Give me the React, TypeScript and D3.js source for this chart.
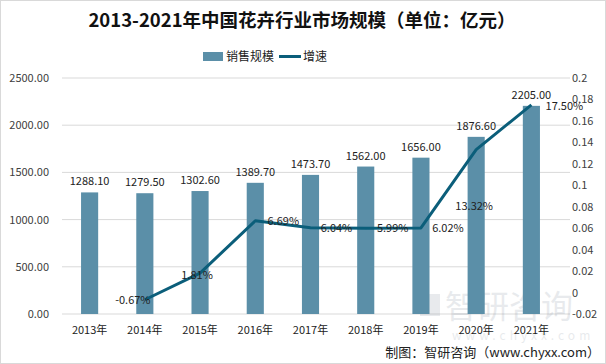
import React, { useEffect, useRef } from 'react';
import * as d3 from 'd3';

const years = ['2013年', '2014年', '2015年', '2016年', '2017年', '2018年', '2019年', '2020年', '2021年'];
const sales = [1288.1, 1279.5, 1302.6, 1389.7, 1473.7, 1562.0, 1656.0, 1876.6, 2205.0];
const growth = [null, -0.0067, 0.0181, 0.0669, 0.0604, 0.0599, 0.0602, 0.1332, 0.175];
const leftTicks = [0, 500, 1000, 1500, 2000, 2500];
const rightTicks = [-0.02, 0, 0.02, 0.04, 0.06, 0.08, 0.1, 0.12, 0.14, 0.16, 0.18, 0.2];

const FONT = '"Noto Sans CJK SC", "Microsoft YaHei", sans-serif';
const BAR = '#5b8fa8';
const LINE = '#0b5e7a';

const App: React.FC = () => {
  const svgRef = useRef<SVGSVGElement>(null);

  useEffect(() => {
    if (!svgRef.current) return;
    const svg = d3.select(svgRef.current);
    svg.selectAll('*').remove();

    const width = 606;
    const height = 364;
    const left = 62, right = 559, top = 78, bottom = 314;

    svg.append('rect').attr('x', 0.5).attr('y', 0.5).attr('width', width - 1).attr('height', height - 1)
      .attr('fill', '#fff').attr('stroke', '#d9d9d9');

    const x = d3.scaleBand().domain(years).range([left, right]).paddingInner(0.69).paddingOuter(0.345);
    const y = d3.scaleLinear().domain([0, 2500]).range([bottom, top]);
    const y2 = d3.scaleLinear().domain([-0.02, 0.2]).range([bottom, top]);

    // grid
    svg.append('g').selectAll('line').data(leftTicks).join('line')
      .attr('x1', left).attr('x2', 570)
      .attr('y1', d => y(d)).attr('y2', d => y(d))
      .attr('stroke', '#d9d9d9').attr('stroke-width', 1);

    // left axis labels
    svg.append('g').selectAll('text').data(leftTicks).join('text')
      .attr('x', 49).attr('y', d => y(d) + 4)
      .attr('text-anchor', 'end').style('font-family', FONT).style('font-size', '11px').attr('fill', '#404040')
      .text(d => d.toFixed(2));

    // right axis labels
    svg.append('g').selectAll('text').data(rightTicks).join('text')
      .attr('x', 572).attr('y', d => y2(d) + 4)
      .style('font-family', FONT).style('font-size', '11px').attr('fill', '#404040')
      .text(d => String(+d.toFixed(2)));

    // watermark
    const wm = svg.append('g').attr('opacity', 0.15);
    wm.append('text').attr('x', 445).attr('y', 318).style('font-family', FONT).style('font-size', '32px')
      .attr('fill', '#6a7a8a').text('智研咨询');
    wm.append('text').attr('x', 452).attr('y', 340).style('font-family', FONT).style('font-size', '12px')
      .attr('fill', '#6a7a8a').attr('letter-spacing', '4px').text('www.chyxx.com');
    wm.append('rect').attr('x', 420).attr('y', 294).attr('width', 20).attr('height', 22).attr('fill', '#6a7a8a');

    // bars
    svg.append('g').selectAll('rect').data(sales).join('rect')
      .attr('x', (_, i) => x(years[i])!)
      .attr('y', d => y(d))
      .attr('width', x.bandwidth())
      .attr('height', d => bottom - y(d))
      .attr('fill', BAR);

    svg.append('g').selectAll('text').data(sales).join('text')
      .attr('x', (_, i) => x(years[i])! + x.bandwidth() / 2)
      .attr('y', d => y(d) - 7)
      .attr('text-anchor', 'middle').style('font-family', FONT).style('font-size', '11px').attr('fill', '#222')
      .text(d => d.toFixed(2));

    // x labels
    svg.append('g').selectAll('text').data(years).join('text')
      .attr('x', d => x(d)! + x.bandwidth() / 2).attr('y', 334)
      .attr('text-anchor', 'middle').style('font-family', FONT).style('font-size', '11px').attr('fill', '#222')
      .text(d => d);

    // line
    const pts = growth.map((g, i) => ({ g, i })).filter(p => p.g !== null) as { g: number; i: number }[];
    const cx = (i: number) => x(years[i])! + x.bandwidth() / 2;
    const line = d3.line<{ g: number; i: number }>().x(d => cx(d.i)).y(d => y2(d.g));
    svg.append('path').datum(pts).attr('d', line).attr('fill', 'none')
      .attr('stroke', LINE).attr('stroke-width', 3).attr('stroke-linejoin', 'round');

    const offs: Record<number, [number, number]> = {
      1: [-12, 4], 2: [-3, 6], 3: [28, 4], 4: [26, 4], 5: [27, 4], 6: [27, 4], 7: [-2, 60], 8: [33, 5],
    };
    svg.append('g').selectAll('text').data(pts).join('text')
      .attr('x', d => cx(d.i) + offs[d.i][0])
      .attr('y', d => y2(d.g) + offs[d.i][1])
      .attr('text-anchor', 'middle').style('font-family', FONT).style('font-size', '11px').attr('fill', '#222')
      .text(d => (d.g * 100).toFixed(2) + '%');

    // title
    svg.append('text').attr('x', 302).attr('y', 27).attr('text-anchor', 'middle')
      .style('font-family', FONT).style('font-size', '18.5px').style('font-weight', 'bold').attr('fill', '#111')
      .text('2013-2021年中国花卉行业市场规模（单位：亿元）');

    // legend
    const lg = svg.append('g').style('font-family', FONT).style('font-size', '12px');
    lg.append('rect').attr('x', 203).attr('y', 52).attr('width', 20).attr('height', 9).attr('fill', BAR);
    lg.append('text').attr('x', 226).attr('y', 61).attr('fill', '#222').text('销售规模');
    lg.append('line').attr('x1', 279).attr('x2', 301).attr('y1', 56.5).attr('y2', 56.5)
      .attr('stroke', LINE).attr('stroke-width', 3);
    lg.append('text').attr('x', 303).attr('y', 61).attr('fill', '#222').text('增速');

    // source
    svg.append('text').attr('x', 600).attr('y', 357).attr('text-anchor', 'end')
      .style('font-family', FONT).style('font-size', '13px').attr('fill', '#222')
      .text('制图：智研咨询（www.chyxx.com）');
  }, []);

  return (
    <svg ref={svgRef} width={606} height={364}
      style={{ position: 'absolute', left: 0, top: 0, display: 'block' }} />
  );
};

export default App;
